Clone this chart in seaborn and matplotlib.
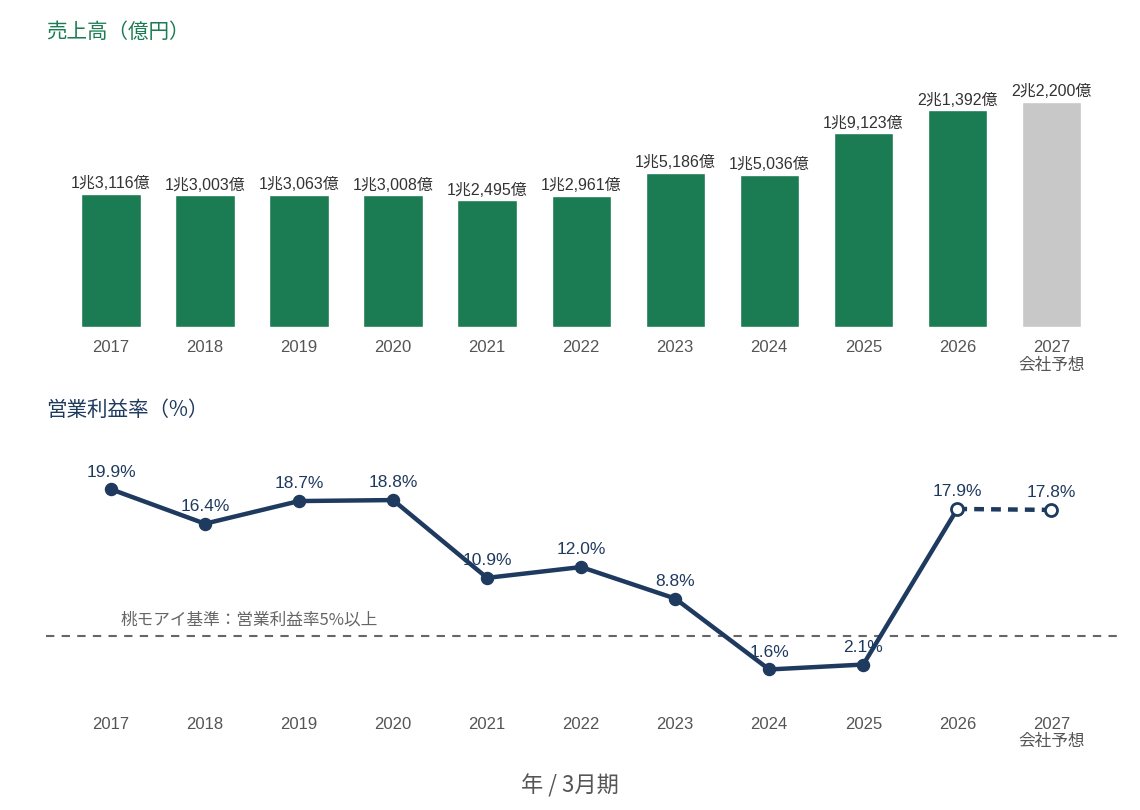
import matplotlib
matplotlib.use("Agg")
import matplotlib.pyplot as plt
import seaborn as sns
import pandas as pd

years = ["2017", "2018", "2019", "2020", "2021", "2022", "2023", "2024", "2025", "2026", "2027\n会社予想"]
sales = [13116, 13003, 13063, 13008, 12495, 12961, 15186, 15036, 19123, 21392, 22200]
sales_labels = ["1兆3,116億", "1兆3,003億", "1兆3,063億", "1兆3,008億", "1兆2,495億", "1兆2,961億",
                "1兆5,186億", "1兆5,036億", "1兆9,123億", "2兆1,392億", "2兆2,200億"]
is_forecast = ["実績"] * 10 + ["予想"]
margin = [19.9, 16.4, 18.7, 18.8, 10.9, 12.0, 8.8, 1.6, 2.1, 17.9, 17.8]
threshold = 5

sns.set_theme(style="white")
plt.rcParams["font.family"] = ["Liberation Sans", "Noto Sans CJK JP", "DejaVu Sans"]
cjk = ["Noto Sans CJK JP", "DejaVu Sans"]

green = "#1b7b53"
grey_bar = "#c8c8c8"
navy = "#1f3a5f"
txt = "#555555"

fig = plt.figure(figsize=(11.4, 8.1), dpi=100)
ax1 = fig.add_axes([0.0404, 0.5963, 0.9404, 0.33])
ax2 = fig.add_axes([0.0404, 0.1358, 0.9404, 0.321])

# Bar chart: sales
df = pd.DataFrame({"year": years, "sales": sales, "kind": is_forecast})
sns.barplot(data=df, x="year", y="sales", hue="kind", palette={"実績": green, "予想": grey_bar},
            width=0.63, dodge=False, legend=False, ax=ax1, saturation=1)
for i, (v, lab) in enumerate(zip(sales, sales_labels)):
    ax1.annotate(lab, (i, v), xytext=(0, 2), textcoords="offset points",
                 ha="center", va="bottom", fontsize=11.5, color="#333333")
ax1.set_xlim(-0.69, 10.71)
ax1.set_ylim(0, 26400)
ax1.set_yticks([])
ax1.set_xlabel("")
ax1.set_ylabel("")
ax1.tick_params(axis="x", length=0, pad=9.5, labelsize=12, labelcolor=txt)
for s in ax1.spines.values():
    s.set_visible(False)

# Line chart: operating margin
x = list(range(len(years)))
sns.lineplot(x=x[:10], y=margin[:10], ax=ax2, color=navy, linewidth=3.2)
ax2.plot(x[9:], margin[9:], color=navy, linewidth=3.2, linestyle=(0, (2.2, 1.6)))
ax2.scatter(x[:9], margin[:9], s=75, color=navy, zorder=3)
ax2.scatter(x[9:], margin[9:], s=75, facecolor="white", edgecolor=navy, linewidth=2, zorder=3)
for i, v in enumerate(margin):
    ax2.annotate(f"{v}%", (i, v), xytext=(0, 7), textcoords="offset points",
                 ha="center", va="bottom", fontsize=12.5, color=navy)
ax2.axhline(threshold, color="#666666", linewidth=1.5, linestyle=(0, (4, 3.5)), zorder=1)
ax2.text(0.069, threshold + 0.8, "桃モアイ基準：営業利益率5%以上", transform=ax2.get_yaxis_transform(),
         ha="left", va="bottom", fontsize=12, color="#666666", family=cjk)
ax2.set_xlim(-0.69, 10.71)
ax2.set_ylim(-1.5, 24.9)
ax2.set_xticks(x)
ax2.set_xticklabels(years)
ax2.set_yticks([])
ax2.tick_params(axis="x", length=0, pad=12, labelsize=12, labelcolor=txt)
for s in ax2.spines.values():
    s.set_visible(False)

fig.text(46 / 1140, 1 - 32 / 810, "売上高（億円）", color=green, fontsize=14.8, ha="left", va="center", family=cjk)
fig.text(46 / 1140, 1 - 410 / 810, "営業利益率（%）", color=navy, fontsize=14.8, ha="left", va="center", family=cjk)
fig.text(570 / 1140, 1 - 786 / 810, "年 / 3月期", color=txt, fontsize=16, ha="center", va="center", family=cjk)

fig.savefig("out.png", dpi=100)
